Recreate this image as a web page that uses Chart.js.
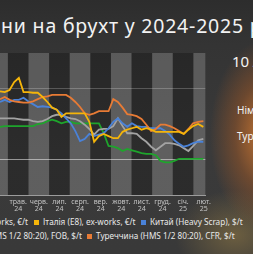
<!DOCTYPE html>
<html lang="uk">
<head>
<meta charset="utf-8">
<script src="https://cdn.jsdelivr.net/npm/chart.js@4.4.1/dist/chart.umd.min.js"></script>
<style>
  html, body { margin: 0; padding: 0; }
  body {
    width: 253px; height: 254px; overflow: hidden; position: relative;
    font-family: "Noto Sans", sans-serif; color: #fff;
    background:
      radial-gradient(ellipse 55px 95px at 265px 135px, rgba(205,120,50,0.95), rgba(150,85,40,0.55) 55%, rgba(60,50,40,0) 100%),
      radial-gradient(ellipse 60px 45px at 235px 235px, rgba(150,125,70,0.55), rgba(0,0,0,0) 100%),
      linear-gradient(180deg, #2d2d2d 0px, #343434 45px, #3a3a3a 150px, #393939 254px);
  }
  .title { position: absolute; top: 12px; white-space: nowrap; font-size: 19.5px; font-weight: 400; letter-spacing: 0.8px; color: #f2f2f2; }
  #wrap { position: absolute; left: 0; top: 53px; width: 214px; height: 162px; }
  .side { position: absolute; white-space: nowrap; color: #f4f4f4; }
  .leg { position: absolute; white-space: nowrap; font-size: 8.2px; color: #e8e8e8; line-height: 10px; }
  .leg i { display: inline-block; width: 5px; height: 5px; margin-right: 4px; vertical-align: 0px; }
</style>
</head>
<body>
<div class="title" id="title"><span id="cut">Ці</span>ни на брухт у 2024-2025 роках</div>
<div class="side" style="left:232px; top:51px; font-size:15px;">10 лютого</div>
<div class="side" style="left:237px; top:103px; font-size:10px;">Німеччина</div>
<div class="side" style="left:237px; top:129px; font-size:10px;">Туреччина</div>
<div id="wrap"><canvas id="c" width="214" height="162"></canvas></div>
<div id="legend"></div>
<script>
// weekly quotes, Apr 2024 - Feb 2025
const weeks = ['19.04.24','26.04.24','03.05.24','10.05.24','17.05.24','24.05.24','31.05.24',
  '07.06.24','14.06.24','21.06.24','28.06.24','05.07.24','12.07.24','19.07.24','26.07.24',
  '02.08.24','09.08.24','16.08.24','23.08.24','30.08.24','06.09.24','13.09.24','20.09.24','27.09.24',
  '04.10.24','11.10.24','18.10.24','25.10.24','01.11.24','08.11.24','15.11.24','22.11.24','29.11.24',
  '06.12.24','13.12.24','20.12.24','27.12.24','03.01.25','10.01.25','17.01.25','24.01.25','31.01.25',
  '07.02.25','14.02.25'];

const monthLabels = ['квіт.','трав.','черв.','лип.','серп.','вер.','жовт.','лист.','груд.','січ.','лют.'];
const monthYears  = ['24','24','24','24','24','24','24','24','24','25','25'];

const italy = [446,445,448,459,465,445,445,444,444,438,431,423,420,410,415,415,415,415,415,403,375,383,
  386,383,380,380,389,392,394,396,392,394,392,389,389,389,389,389,389,386,392,397,400,396];
const turkey = [435,438,434,432,431,430,430,432,435,438,439,441,441,441,441,437,431,424,415,413,415,418,
  418,418,435,431,423,414,413,411,407,399,390,393,399,399,397,394,390,386,393,401,403,404];
const china = [431,434,431,434,434,437,432,428,424,425,424,423,420,415,408,401,390,376,379,386,383,385,
  387,394,403,408,401,396,401,397,396,396,394,394,394,390,385,377,372,368,370,373,375,375];
const germany = [408,408,408,408,407,406,406,404,403,404,407,411,413,413,410,408,407,404,399,393,385,392,
  393,393,397,408,397,387,387,386,380,375,368,363,368,373,373,372,370,366,362,369,377,379];
const rotterdam = [396,397,397,397,397,397,397,397,400,401,404,406,404,401,403,403,401,401,401,401,401,401,
  387,369,368,366,362,365,363,361,359,358,358,356,348,346,346,348,351,351,351,351,351,351];

const series = [
  { label: 'Італія (E8), ex-works, €/t', data: italy, color: '#f5b50a' },
  { label: 'Туреччина (HMS 1/2 80:20), CFR, $/t', data: turkey, color: '#e87b35' },
  { label: 'Китай (Heavy Scrap), $/t', data: china, color: '#4a82d8' },
  { label: 'Німеччина (E3), ex-works, €/t', data: germany, color: '#a3a3a3' },
  { label: 'Роттердам (HMS 1/2 80:20), FOB, $/t', data: rotterdam, color: '#1ea52c' }
];

// month index from April 2024, months drawn equal width
function monthPos(s) {
  const [d, m, y] = s.split('.').map(Number);
  const year = 2000 + y;
  const days = new Date(year, m, 0).getDate();
  return (year - 2024) * 12 + (m - 4) + (d - 0.5) / days;
}
const xs = weeks.map(monthPos);

const stripes = {
  id: 'stripes',
  beforeDraw(chart) {
    const { ctx, chartArea: a, scales: { x } } = chart;
    ctx.save();
    ctx.beginPath();
    ctx.rect(a.left, a.top, a.right - a.left, a.bottom - a.top);
    ctx.clip();
    monthLabels.forEach((_, m) => {
      const l = x.getPixelForValue(m), r = x.getPixelForValue(m + 1);
      ctx.fillStyle = m % 2 === 0 ? 'rgba(255,255,255,0.19)' : 'rgba(0,0,0,0.24)';
      ctx.fillRect(l, a.top, r - l, a.bottom - a.top);
    });
    ctx.restore();
  }
};

new Chart(document.getElementById('c'), {
  type: 'line',
  data: {
    datasets: series.map(s => ({
      label: s.label,
      data: s.data.map((v, i) => ({ x: xs[i], y: v })),
      borderColor: s.color,
      backgroundColor: s.color,
      borderWidth: 1.8,
      pointRadius: 0,
      tension: 0
    }))
  },
  options: {
    responsive: false,
    animation: false,
    layout: { padding: { left: 0, right: 8, top: 0, bottom: 0 } },
    plugins: { legend: { display: false }, tooltip: { enabled: false } },
    scales: {
      x: {
        type: 'linear',
        min: xs[0],
        max: 10.58,
        afterBuildTicks: (scale) => {
          scale.ticks = monthLabels.map((_, m) => ({ value: m + 0.5 }))
            .filter(t => t.value >= scale.min && t.value <= scale.max);
        },
        afterFit: (scale) => { scale.height = 20; },
        ticks: {
          autoSkip: false, maxRotation: 0, padding: 3,
          color: '#c4c4c4',
          font: { family: 'Noto Sans', size: 7, lineHeight: 1 },
          callback: (v) => [monthLabels[Math.floor(v)], monthYears[Math.floor(v)]]
        },
        grid: { display: false, drawTicks: false },
        border: { display: true, color: '#9c9c9c', width: 1 }
      },
      y: {
        display: true,
        min: 300, max: 500,
        ticks: { display: false, stepSize: 50 },
        grid: {
          drawTicks: false,
          color: (c) => c.tick.value === 350 ? 'rgba(255,255,255,0.5)'
            : c.tick.value === 450 ? 'rgba(255,255,255,0.22)' : 'rgba(0,0,0,0)'
        },
        border: { display: false }
      }
    }
  },
  plugins: [stripes]
});

// title starts mid-word like the cropped original
const cut = document.getElementById('cut');
document.getElementById('title').style.left = (1 - cut.offsetWidth) + 'px';

// legend
const legendItems = [
  { s: series[3], top: 217, right: 225 },
  { s: series[0], top: 217, left: 34 },
  { s: series[2], top: 217, left: 141 },
  { s: series[4], top: 231, right: 171 },
  { s: series[1], top: 231, left: 87 }
];
const legend = document.getElementById('legend');
legendItems.forEach(it => {
  const el = document.createElement('div');
  el.className = 'leg';
  el.style.top = it.top + 'px';
  if (it.left !== undefined) el.style.left = it.left + 'px';
  else el.style.right = it.right + 'px';
  el.innerHTML = '<i style="background:' + it.s.color + '"></i>' + it.s.label;
  legend.appendChild(el);
});
</script>
</body>
</html>
